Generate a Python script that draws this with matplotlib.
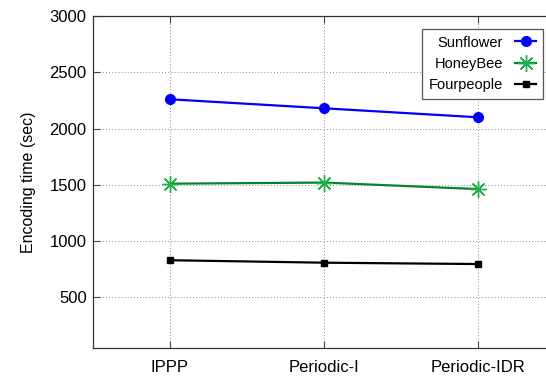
import matplotlib
matplotlib.use("Agg")
import matplotlib.pyplot as plt

plt.rcParams['font.family'] = ['Liberation Sans', 'DejaVu Sans']

# encoding schemes on the x axis
schemes = ['IPPP', 'Periodic-I', 'Periodic-IDR']
sunflower = [2260, 2180, 2100]
honeybee = [1510, 1520, 1462]
fourpeople = [830, 808, 796]
y_ticks = [500, 1000, 1500, 2000, 2500, 3000]

fig = plt.figure(figsize=(5.46, 3.8), dpi=100)
# the right border runs just past the edge of the canvas
ax = fig.add_axes([93 / 546, 1 - 348 / 380, 462 / 546, 332 / 380])

xs = list(range(1, len(schemes) + 1))
ax.plot(xs, sunflower, color='#0000ff', lw=1.6, marker='o', ms=7,
        label='Sunflower', zorder=3)
ax.plot(xs, honeybee, color='#00852a', lw=1.6, marker=(8, 2, 0), ms=12,
        mec='#22b04a', mew=1.0, label='HoneyBee', zorder=3)
ax.plot(xs, fourpeople, color='black', lw=1.6, marker='s', ms=5,
        label='Fourpeople', zorder=3)

ax.set_xlim(0.5, 3.5)
ax.set_ylim(50, 3000)
ax.set_xticks(xs)
ax.set_xticklabels(schemes, fontsize=12)
ax.set_yticks(y_ticks)
ax.set_yticklabels([str(v) for v in y_ticks], fontsize=12)
ax.tick_params(direction='in', length=5, width=0.8, top=True, right=True,
               color='#444444')
ax.tick_params(axis='x', pad=9)
ax.tick_params(axis='y', pad=4.5)
ax.grid(True, ls=(0, (1, 2.2)), color='#8a8a8a', lw=0.7)
for s in ax.spines.values():
    s.set_color('#333333')
    s.set_linewidth(0.9)

ax.set_ylabel('Encoding time (sec)', fontsize=11.5, labelpad=10)

# gnuplot-like key: labels right-aligned, samples on the right
leg = ax.legend(loc='upper right', bbox_to_anchor=(543 / 546, 1 - 29 / 380),
                bbox_transform=fig.transFigure, markerfirst=False,
                fancybox=False, framealpha=1, edgecolor='#555555',
                fontsize=10.5, borderaxespad=0, handlelength=1.5,
                labelspacing=0.5, borderpad=0.45, handletextpad=0.8)
leg.get_frame().set_linewidth(0.9)

fig.savefig('out.png', dpi=100)
